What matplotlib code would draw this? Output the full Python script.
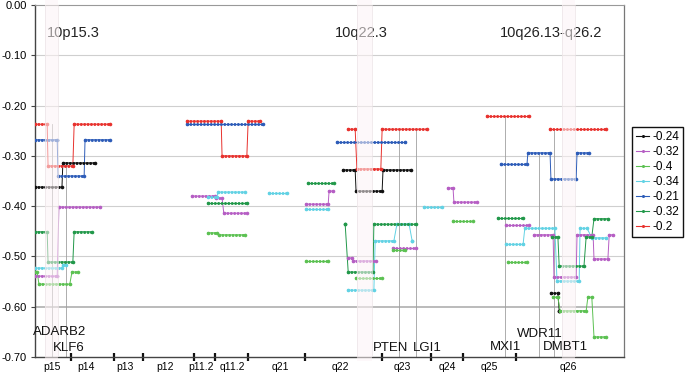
import matplotlib
matplotlib.use("Agg")
import matplotlib.pyplot as plt
from matplotlib.lines import Line2D
from matplotlib.patches import Rectangle
import matplotlib.transforms as mtransforms

plt.rcParams['font.family'] = ['Liberation Sans', 'DejaVu Sans']

# segments per sample: blocks of (start Mb, end Mb, log ratio), runs in a block are connected
seg_black = [
    [(0.0, 6.2, -0.362), (6.4, 13.8, -0.314)],
    [(70.8, 73.6, -0.328), (73.8, 79.8, -0.370), (80.0, 86.4, -0.328)],
    [(118.6, 120.2, -0.573), (120.5, 120.5, -0.608)],
]
seg_magenta = [
    [(0.0, 5.1, -0.539), (5.5, 14.9, -0.402)],
    [(36.1, 41.4, -0.380), (41.6, 43.0, -0.384), (43.4, 48.7, -0.414)],
    [(62.3, 67.4, -0.396), (67.6, 68.5, -0.370)],
    [(72.0, 72.9, -0.503), (73.1, 78.4, -0.509)],
    [(82.3, 87.6, -0.483)],
    [(94.9, 96.1, -0.364), (96.3, 101.6, -0.392)],
    [(108.3, 113.6, -0.437)],
    [(114.7, 119.1, -0.457), (119.3, 124.4, -0.541), (124.6, 128.3, -0.457),
     (128.5, 131.7, -0.505), (132.0, 132.9, -0.457)],
]
seg_lightgreen = [
    [(0.0, 0.5, -0.531), (0.9, 8.0, -0.555), (8.5, 9.9, -0.531)],
    [(39.8, 41.8, -0.453), (42.3, 48.3, -0.457)],
    [(62.3, 67.4, -0.509)],
    [(73.8, 79.8, -0.543)],
    [(82.3, 85.1, -0.487)],
    [(96.1, 100.7, -0.429)],
    [(108.7, 113.1, -0.511)],
    [(119.1, 120.2, -0.581), (120.7, 126.7, -0.608), (127.1, 128.0, -0.581), (128.5, 131.3, -0.660)],
]
seg_cyan = [
    [(0.0, 6.2, -0.523), (6.4, 7.1, -0.517)],
    [(39.8, 41.8, -0.382), (42.1, 48.3, -0.372)],
    [(53.8, 57.9, -0.374)],
    [(62.3, 67.4, -0.406)],
    [(72.0, 77.9, -0.567), (78.2, 82.5, -0.469), (83.2, 86.0, -0.436), (86.7, 86.7, -0.469)],
    [(89.4, 93.6, -0.402)],
    [(108.3, 112.2, -0.476), (112.6, 119.5, -0.444), (120.0, 125.1, -0.549),
     (125.3, 126.9, -0.444), (128.0, 131.3, -0.463)],
]
seg_blue = [
    [(0.0, 5.1, -0.268), (5.3, 11.3, -0.340), (11.5, 17.2, -0.268)],
    [(34.9, 52.4, -0.237)],
    [(69.4, 85.1, -0.272)],
    [(107.1, 113.1, -0.317), (113.3, 118.4, -0.294), (118.6, 124.4, -0.346), (124.6, 127.4, -0.294)],
]
seg_darkgreen = [
    [(0.0, 2.8, -0.451), (3.0, 8.7, -0.511), (9.0, 13.1, -0.451)],
    [(39.8, 48.7, -0.394)],
    [(62.8, 68.7, -0.354)],
    [(71.3, 71.3, -0.436), (72.0, 77.7, -0.531), (77.9, 87.6, -0.436)],
    [(106.4, 112.2, -0.424)],
    [(118.9, 120.2, -0.461), (120.5, 126.2, -0.519), (126.7, 128.0, -0.461), (128.5, 131.7, -0.425)],
]
seg_red = [
    [(0.0, 2.8, -0.237), (3.0, 8.7, -0.320), (9.0, 17.2, -0.237)],
    [(34.9, 42.8, -0.231), (43.0, 48.7, -0.300), (49.0, 51.7, -0.231)],
    [(72.0, 73.6, -0.247), (74.0, 79.5, -0.326), (79.8, 90.1, -0.247)],
    [(103.9, 113.6, -0.220)],
    [(118.4, 131.3, -0.247)],
]

series = [seg_black, seg_magenta, seg_lightgreen, seg_cyan, seg_blue, seg_darkgreen, seg_red]
series_labels = ['-0.24', '-0.32', '-0.4', '-0.34', '-0.21', '-0.32', '-0.2']
series_colors = ['#111111', '#b65ec4', '#5cc152', '#62d2e4', '#2d5cb8', '#22984a', '#e8322e']

# cytobands
band_bounds = [8.3, 18.2, 24.8, 36.6, 41.4, 49.0, 62.1, 79.8, 91.0, 98.4, 110.6]
band_names = ['p15', 'p14', 'p13', 'p12', 'p11.2', 'q11.2', 'q21', 'q22', 'q23', 'q24', 'q25', 'q26']
band_centers = [3.9, 11.7, 20.7, 29.9, 38.2, 45.3, 56.3, 70.3, 84.4, 94.7, 104.4, 122.5]

# highlighted regions
region_names = ['10p15.3', '10q22.3', '10q26.13-q26.2']
region_spans = [(2.3, 5.3), (74.0, 77.5), (121.1, 124.1)]
region_label_x = [2.8, 69.0, 106.9]

# genes
gene_names = ['ADARB2', 'KLF6', 'PTEN', 'LGI1', 'MXI1', 'WDR11', 'DMBT1']
gene_pos = [3.9, 7.1, 83.7, 87.6, 108.0, 115.9, 119.3]
gene_top = [-0.237, -0.314, -0.247, -0.247, -0.220, -0.294, -0.247]
gene_label_x = [-0.5, 4.1, 77.7, 86.9, 104.6, 110.8, 116.8]
gene_label_y = [-0.650, -0.682, -0.682, -0.682, -0.680, -0.654, -0.680]

fig = plt.figure(figsize=(6.85, 3.74), dpi=100)
ax = fig.add_axes([35 / 685, 1 - 357 / 374, 589 / 685, 352 / 374])
ax.set_xlim(0, 135.4)
ax.set_ylim(-0.70, 0.0)

# grid
for v in [-0.1, -0.2, -0.3, -0.4, -0.5, -0.6]:
    ax.axhline(v, color='#a8a8a8' if v == -0.6 else '#cfcfcf', lw=1.1 if v == -0.6 else 0.8, zorder=1)

# gene marker lines
for g, gx, gt in zip(gene_names, gene_pos, gene_top):
    ax.plot([gx, gx], [gt, -0.70], color='#a0a0a0', lw=0.6, zorder=1.5)

for blocks, col in zip(series, series_colors):
    for block in blocks:
        xs, ys = [], []
        for s, e, v in block:
            xs += [s, e]
            ys += [v, v]
        ax.plot(xs, ys, color=col, lw=0.7, zorder=2)
        for s, e, v in block:
            ax.plot([s, e], [v, v], color=col, lw=2.2, linestyle=(0, (0.01, 1.1)),
                    dash_capstyle='round', zorder=3)
        ax.plot(xs, ys, 'o', color=col, ms=2.6, mew=0, zorder=3)

# region labels (under the shading)
for name, rx in zip(region_names, region_label_x):
    ax.text(rx, -0.055, name, fontsize=10.5, color='#222222', ha='left', va='center', zorder=4)

# shaded regions
trans = mtransforms.blended_transform_factory(ax.transData, ax.transAxes)
for x0, x1 in region_spans:
    ax.add_patch(Rectangle((x0, -0.012), x1 - x0, 1.03, transform=trans, facecolor='#fdf4f6',
                           edgecolor='none', alpha=0.55, clip_on=False, zorder=5))
    for xe in (x0, x1):
        ax.plot([xe, xe], [0, 1], transform=trans, color='#ebe3e6', lw=0.5, zorder=5)

for g, gx, gy in zip(gene_names, gene_label_x, gene_label_y):
    ax.text(gx, gy, g, fontsize=9.5, color='#111111', ha='left', va='center', zorder=6, clip_on=False)

# axes styling
for side in ['left', 'bottom']:
    ax.spines[side].set_color('#444444')
    ax.spines[side].set_linewidth(1.0)
ax.spines['top'].set_color('#999999')
ax.spines['top'].set_linewidth(0.8)
ax.spines['right'].set_color('#777777')
ax.spines['right'].set_linewidth(0.9)

ax.set_yticks([0, -0.1, -0.2, -0.3, -0.4, -0.5, -0.6, -0.7])
ax.set_yticklabels(['0.00', '-0.10', '-0.20', '-0.30', '-0.40', '-0.50', '-0.60', '-0.70'])
ax.tick_params(axis='y', length=3, width=0.8, color='#444444', pad=3, labelsize=8)

ax.set_xticks(band_bounds)
ax.set_xticklabels([])
ax.tick_params(axis='x', which='major', direction='inout', length=6, width=1.6, color='#111111')
ax.set_xticks(band_centers, minor=True)
ax.set_xticklabels(band_names, minor=True)
ax.tick_params(axis='x', which='minor', length=0, pad=3.5, labelsize=7.5)

handles = [Line2D([0], [0], color=c, lw=0.8, marker='o', ms=2.2, mew=0) for c in series_colors]
fig.legend(handles, series_labels, loc='upper left', bbox_to_anchor=(632 / 685, 1 - 127 / 374),
           fontsize=8.5, frameon=True, fancybox=False, edgecolor='#111111', framealpha=1,
           handlelength=1.1, handletextpad=0.25, labelspacing=0.25, borderpad=0.35,
           borderaxespad=0)

fig.savefig('out.png', dpi=100)
